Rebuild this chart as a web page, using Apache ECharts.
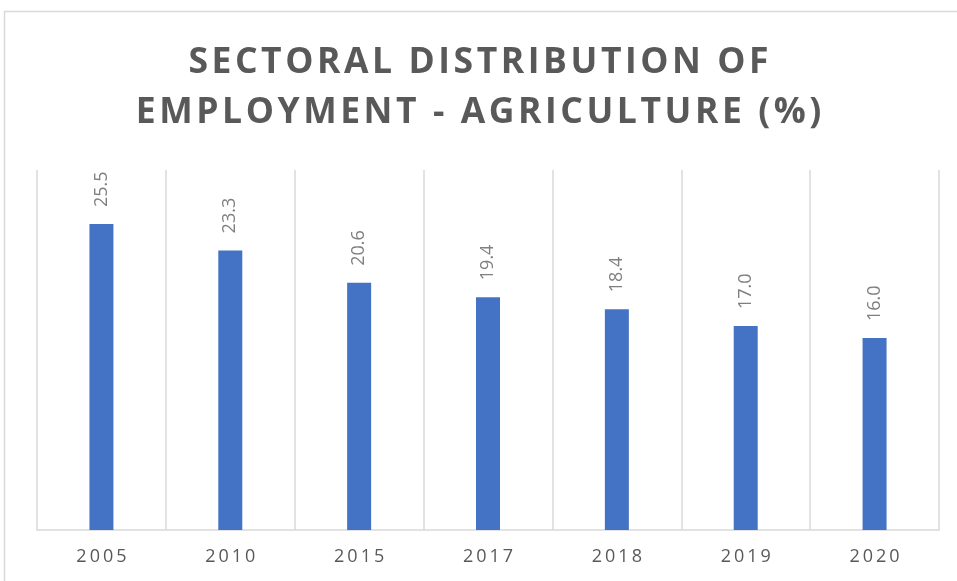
<!DOCTYPE html>
<html>
<head>
<meta charset="utf-8">
<script src="https://cdn.jsdelivr.net/npm/echarts@6/dist/echarts.min.js"></script>
<style>
  html, body { margin: 0; padding: 0; background: #fff; }
  #chart { width: 957px; height: 581px; }
</style>
</head>
<body>
<div id="chart"></div>
<script>
// Agriculture's share of total employment, by year
const years = ['2005', '2010', '2015', '2017', '2018', '2019', '2020'];
const agricultureShare = [25.5, 23.3, 20.6, 19.4, 18.4, 17.0, 16.0];
const titleLines = ['SECTORAL DISTRIBUTION OF', 'EMPLOYMENT - AGRICULTURE (%)'];

const FONT = '"Open Sans", sans-serif';
// open up the tracking by placing a narrow space between characters
const track = (s, gap) => s.split('').join(gap);

const chart = echarts.init(document.getElementById('chart'), null, { renderer: 'canvas' });
chart.setOption({
  animation: false,
  backgroundColor: '#ffffff',
  title: {
    text: titleLines.map(l => track(l, '\u200A')).join('\n'),
    left: 'center',
    top: 33,
    padding: [5, 5, 5, 19],
    textStyle: {
      fontFamily: FONT,
      fontWeight: 'bold',
      fontSize: 35.5,
      lineHeight: 50,
      color: '#595959'
    }
  },
  graphic: [{
    type: 'rect',
    shape: { x: 4.5, y: 11.5, width: 1000, height: 1000 },
    style: { fill: 'none', stroke: '#d9d9d9', lineWidth: 1.5 },
    silent: true
  }],
  grid: { left: 37, right: 18, top: 170, bottom: 51 },
  xAxis: {
    type: 'category',
    data: years,
    axisLine: { lineStyle: { color: '#d9d9d9', width: 1.5 } },
    axisTick: { show: false },
    splitLine: { show: true, lineStyle: { color: '#d9d9d9', width: 1.5 } },
    axisLabel: {
      fontFamily: FONT,
      fontSize: 18,
      color: '#595959',
      margin: 18,
      formatter: v => track(v, '\u2009')
    }
  },
  yAxis: {
    type: 'value',
    min: 0,
    max: 30,
    show: false,
    splitLine: { show: false }
  },
  series: [{
    type: 'bar',
    data: agricultureShare,
    barWidth: 24,
    itemStyle: { color: '#4472c4' },
    label: {
      show: true,
      position: 'top',
      rotate: 90,
      align: 'left',
      verticalAlign: 'middle',
      distance: 17,
      fontFamily: FONT,
      fontSize: 18,
      color: '#7f7f7f',
      formatter: p => p.value.toFixed(1)
    }
  }]
});
</script>
</body>
</html>
